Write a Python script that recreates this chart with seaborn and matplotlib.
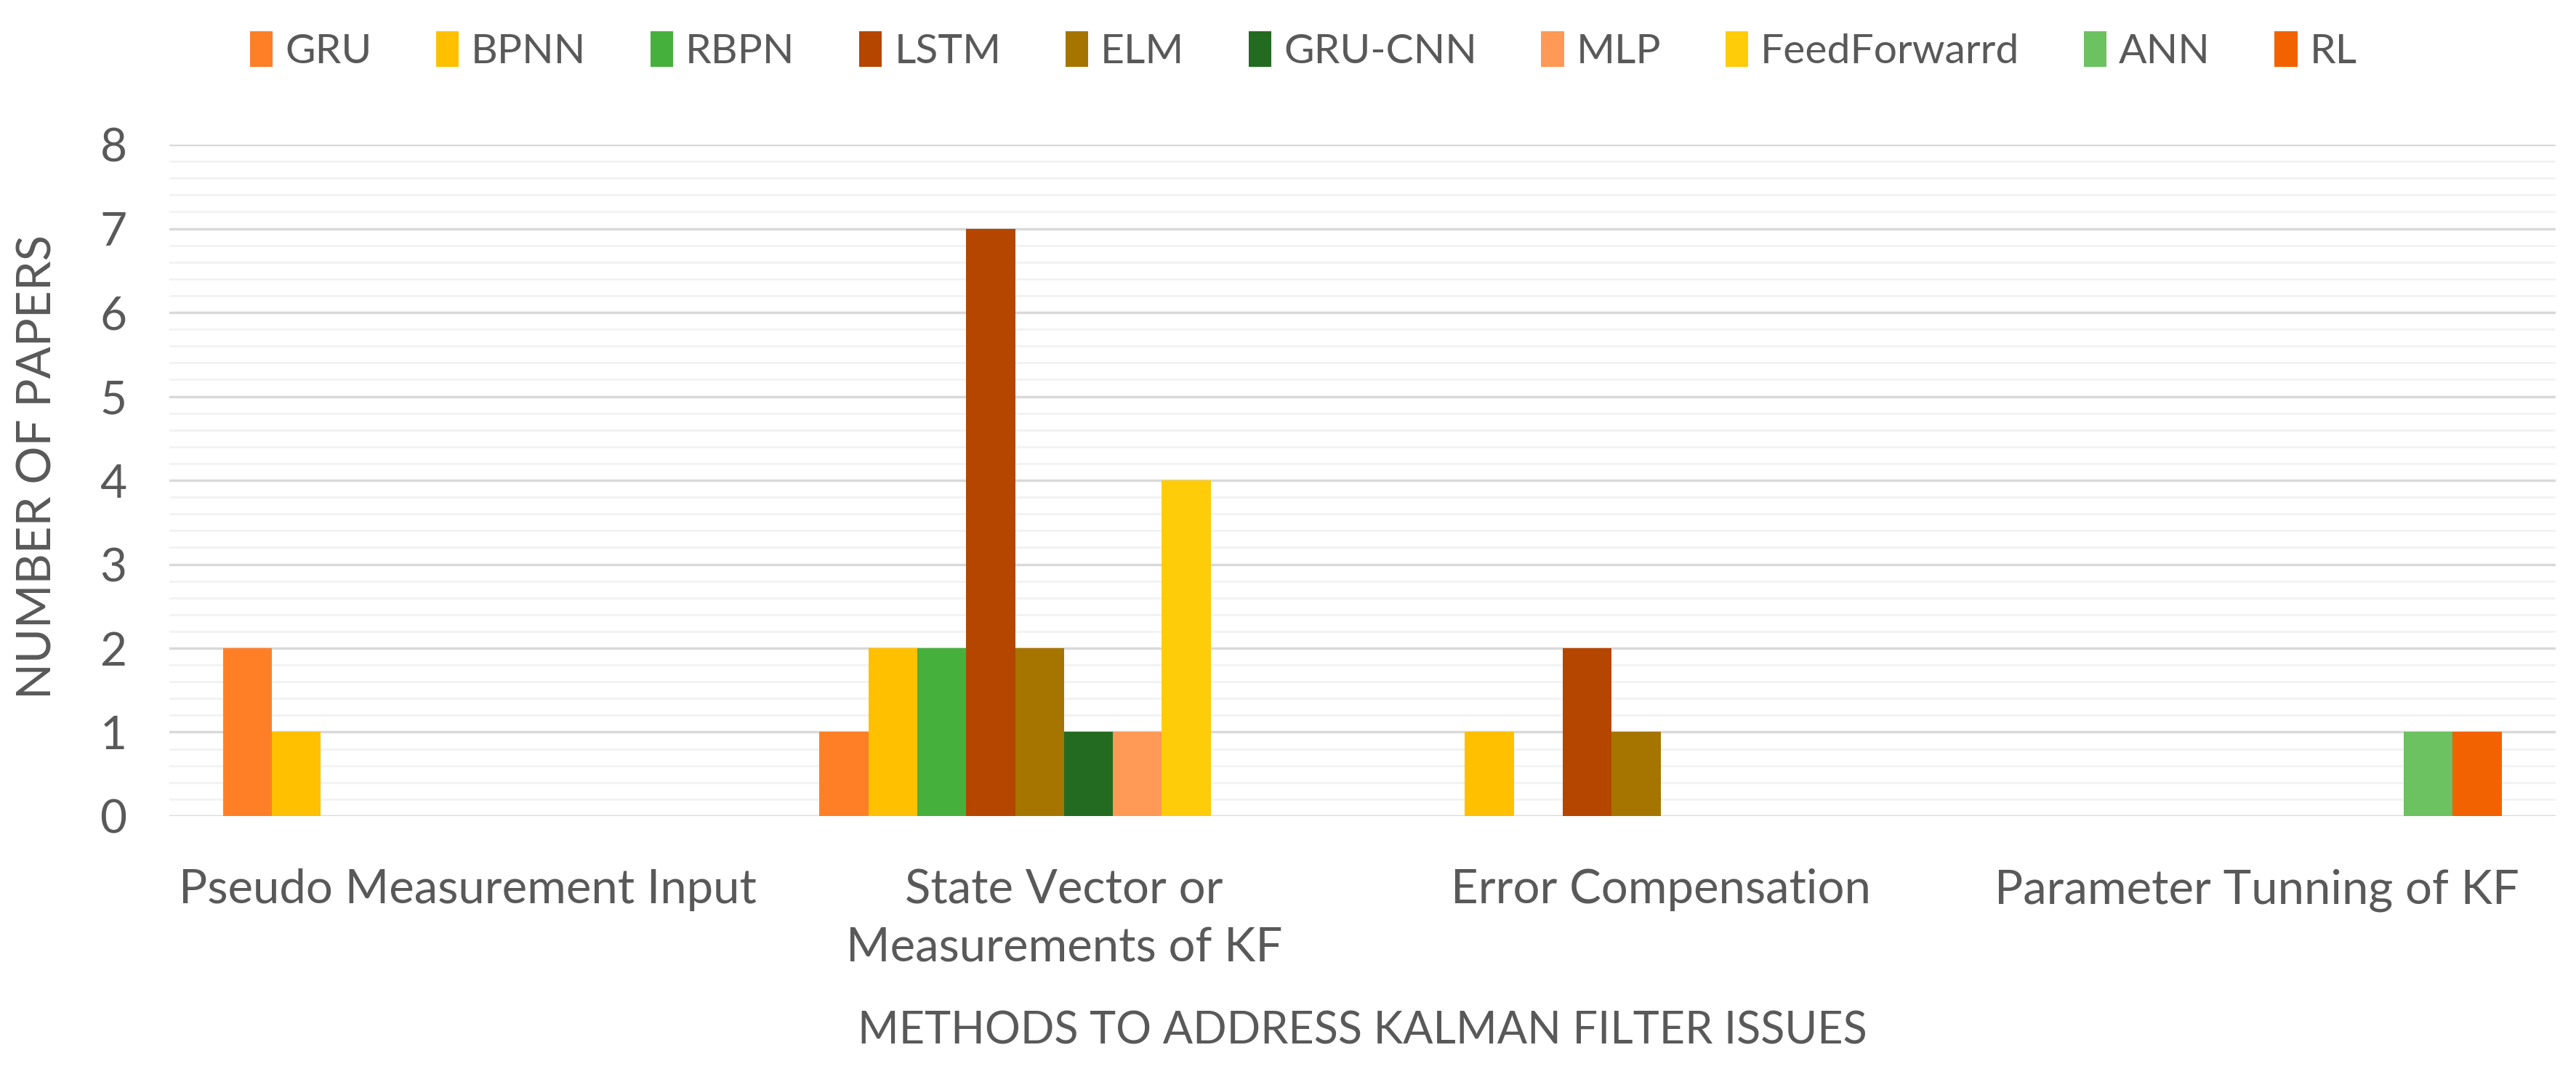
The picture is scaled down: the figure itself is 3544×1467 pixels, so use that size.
import matplotlib
matplotlib.use('Agg')
import matplotlib.pyplot as plt
import seaborn as sns
import pandas as pd
from matplotlib.ticker import MultipleLocator

categories = ['Pseudo Measurement Input', 'State Vector or\nMeasurements of KF',
              'Error Compensation', 'Parameter Tunning of KF']
methods = ['GRU', 'BPNN', 'RBPN', 'LSTM', 'ELM', 'GRU-CNN', 'MLP',
           'FeedForwarrd', 'ANN', 'RL']

gru = [2, 1, 0, 0]
bpnn = [1, 2, 1, 0]
rbpn = [0, 2, 0, 0]
lstm = [0, 7, 2, 0]
elm = [0, 2, 1, 0]
gru_cnn = [0, 1, 0, 0]
mlp = [0, 1, 0, 0]
feedforward = [0, 4, 0, 0]
ann = [0, 0, 0, 1]
rl = [0, 0, 0, 1]

colors = ['#FF7F27', '#FFC000', '#46B03C', '#B54600', '#A67500',
          '#236B21', '#FF9955', '#FFCC0A', '#6CC160', '#F26200']

series = [gru, bpnn, rbpn, lstm, elm, gru_cnn, mlp, feedforward, ann, rl]
rows = []
for m, vals in zip(methods, series):
    for c, v in zip(categories, vals):
        rows.append({'Category': c, 'Method': m, 'Papers': v})
df = pd.DataFrame(rows)

sns.set_theme(style='white')
plt.rcParams['font.family'] = ['Lato', 'DejaVu Sans']
text_color = '#595959'

fig = plt.figure(figsize=(35.44, 14.67), dpi=100)
ax = fig.add_axes([0.0657, 0.2345, 0.9263, 0.6298])

sns.barplot(data=df, x='Category', y='Papers', hue='Method',
            order=categories, hue_order=methods, palette=colors,
            saturation=1, width=0.82, linewidth=0, ax=ax, legend=True)

ax.set_ylim(0, 8)
ax.set_xlim(-0.5, 3.5)
ax.yaxis.set_major_locator(MultipleLocator(1))
ax.yaxis.set_minor_locator(MultipleLocator(0.2))
ax.grid(axis='y', which='major', color='#d9d9d9', linewidth=2.5, zorder=0)
ax.grid(axis='y', which='minor', color='#f2f2f2', linewidth=2.0, zorder=0)
ax.set_axisbelow(True)
for s in ax.spines.values():
    s.set_visible(False)
ax.tick_params(axis='both', which='both', length=0)
ax.tick_params(axis='y', labelsize=46, labelcolor=text_color, pad=42)
ax.tick_params(axis='x', labelsize=47, labelcolor=text_color, pad=52)
for lbl in ax.get_xticklabels():
    lbl.set_linespacing(1.45)

ax.set_ylabel('NUMBER OF PAPERS', fontsize=47, color=text_color, labelpad=30)
ax.yaxis.set_label_coords(-0.046, 0.52)
ax.set_xlabel('METHODS TO ADDRESS KALMAN FILTER ISSUES', fontsize=44,
              color=text_color, labelpad=40)

handles, labels = ax.get_legend_handles_labels()
ax.get_legend().remove()
fig.legend(handles, labels, loc='center', bbox_to_anchor=(0.506, 0.952),
           ncol=10, frameon=False, fontsize=41, labelcolor=text_color,
           handlelength=0.55, handleheight=0.95, handletextpad=0.3,
           columnspacing=1.55)

fig.savefig('out.png', dpi=100, facecolor='white')
